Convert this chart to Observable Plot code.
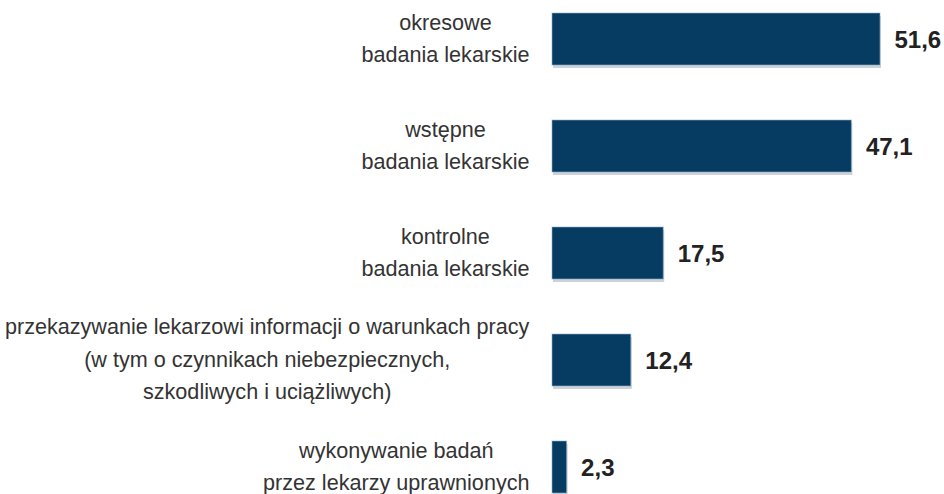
<!DOCTYPE html>
<html>
<head>
<meta charset="utf-8">
<script src="https://cdn.jsdelivr.net/npm/d3@7"></script>
<script src="https://cdn.jsdelivr.net/npm/@observablehq/plot@0.6"></script>
<style>
  html, body { margin: 0; padding: 0; background: #ffffff; }
  #chart { width: 944px; height: 494px; overflow: hidden; }
</style>
</head>
<body>
<div id="chart"></div>
<script>
const categories = [
  "okresowe\nbadania lekarskie",
  "wstępne\nbadania lekarskie",
  "kontrolne\nbadania lekarskie",
  "przekazywanie lekarzowi informacji o warunkach pracy\n(w tym o czynnikach niebezpiecznych,\nszkodliwych i uciążliwych)",
  "wykonywanie badań\nprzez lekarzy uprawnionych"
];
const values = [51.6, 47.1, 17.5, 12.4, 2.3];

const data = categories.map((c, i) => ({category: c, value: values[i]}));
const fmt = v => v.toFixed(1).replace(".", ",");

const chart = Plot.plot({
  width: 944,
  height: 494,
  marginLeft: 552,
  marginRight: 64,
  marginTop: 12,
  marginBottom: 0,
  style: {fontFamily: "'Liberation Sans', Arial, Helvetica, sans-serif", background: "#ffffff"},
  x: {domain: [0, 51.6], axis: null},
  y: {domain: categories, paddingInner: 0.516, paddingOuter: 0, axis: null},
  marks: [
    Plot.barX(data, {y: "category", x: "value", fill: "#9aa6b0", fillOpacity: 0.5, dx: 1, dy: 3}),
    Plot.barX(data, {y: "category", x: "value", fill: "#073c62", stroke: "#8fb2cc", strokeWidth: 1, strokeOpacity: 0.6}),
    Plot.text(data, {
      y: "category", x: "value", text: d => fmt(d.value),
      textAnchor: "start", dx: 14, dy: 1, fontSize: 24, fontWeight: "bold", fill: "#222222"
    }),
    Plot.text(data, {
      y: "category", text: "category", frameAnchor: "left",
      textAnchor: "end", dx: -23, dy: -4, fontSize: 21.6, lineHeight: 1.5, fill: "#333333",
      className: "cat-labels"
    })
  ]
});

document.getElementById("chart").append(chart);

// center the lines of each category label within its block (block right-aligned)
chart.querySelectorAll(".cat-labels text").forEach(t => {
  const w = t.getBBox().width;
  t.setAttribute("text-anchor", "middle");
  t.style.textAnchor = "middle";
  t.querySelectorAll("tspan").forEach(ts => ts.setAttribute("x", -w / 2));
});
</script>
</body>
</html>
